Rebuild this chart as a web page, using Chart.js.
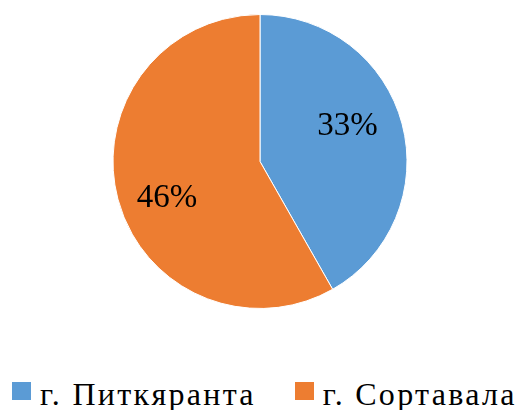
<!DOCTYPE html>
<html>
<head>
<meta charset="utf-8">
<script src="https://cdn.jsdelivr.net/npm/chart.js"></script>
<style>
  html, body { margin: 0; padding: 0; background: #fff; }
  #wrap { position: relative; width: 522px; height: 410px; }
  #box { position: absolute; left: 0; top: 0; width: 522px; height: 310px; }
  #legend { position: absolute; left: 12px; top: 379px; display: flex; align-items: flex-start;
    font-family: "Liberation Serif", "Times New Roman", "Liberation Sans", sans-serif; font-size: 32px; line-height: 30px;
    letter-spacing: 2.3px; color: #000; white-space: nowrap; }
  .item { display: flex; align-items: flex-start; }
  .item + .item { margin-left: 39px; }
  .swatch { width: 19px; height: 18px; margin-top: 3px; margin-right: 9px; }
</style>
</head>
<body>
<div id="wrap">
  <div id="box"><canvas id="chart-pie"></canvas></div>
  <div id="legend"></div>
</div>
<script>
// slice values (percent) and labels
const cities = ['г. Питкяранта', 'г. Сортавала'];
const shares = [33, 46];
const colors = ['#5B9BD5', '#ED7D31'];

const labelFont = '"Liberation Serif", "Times New Roman", "Liberation Sans", sans-serif';

// percentage labels inside slices
const sliceLabels = {
  id: 'sliceLabels',
  afterDatasetsDraw(chart) {
    const ctx = chart.ctx;
    const arcs = chart.getDatasetMeta(0).data;
    ctx.save();
    ctx.font = '33px ' + labelFont;
    ctx.fillStyle = '#000';
    ctx.textAlign = 'center';
    ctx.textBaseline = 'middle';
    arcs.forEach((arc, i) => {
      const mid = (arc.startAngle + arc.endAngle) / 2 - 0.12;
      const r = arc.outerRadius * (i === 0 ? 0.64 : 0.68);
      ctx.fillText(shares[i] + '%', arc.x + Math.cos(mid) * r, arc.y + Math.sin(mid) * r);
    });
    ctx.restore();
  }
};

new Chart(document.getElementById('chart-pie').getContext('2d'), {
  type: 'pie',
  data: {
    labels: cities,
    datasets: [{
      data: shares,
      backgroundColor: colors,
      borderColor: '#fff',
      borderWidth: 1
    }]
  },
  options: {
    responsive: true,
    maintainAspectRatio: false,
    animation: false,
    layout: { padding: { top: 14, bottom: 1, left: 0, right: 2 } },
    plugins: { legend: { display: false }, tooltip: { enabled: false } }
  },
  plugins: [sliceLabels]
});

// legend under the chart
const legend = document.getElementById('legend');
cities.forEach((name, i) => {
  const item = document.createElement('div');
  item.className = 'item';
  const sw = document.createElement('span');
  sw.className = 'swatch';
  sw.style.background = colors[i];
  const txt = document.createElement('span');
  txt.textContent = name;
  item.appendChild(sw);
  item.appendChild(txt);
  legend.appendChild(item);
});
</script>
</body>
</html>
